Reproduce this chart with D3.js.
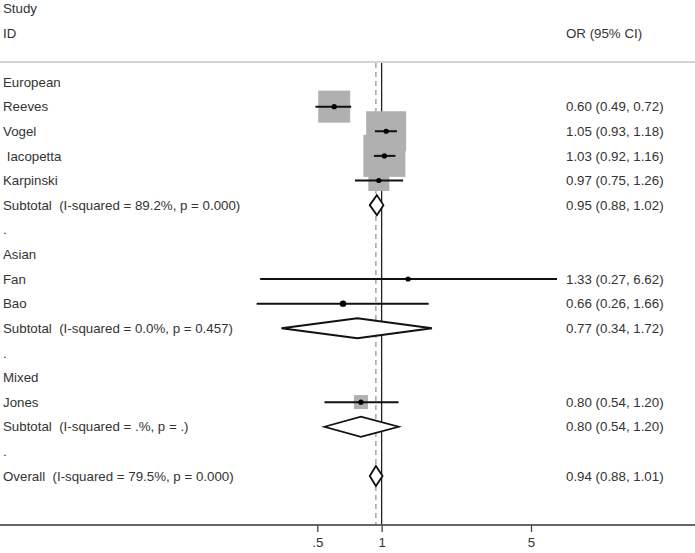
<!DOCTYPE html>
<html><head><meta charset="utf-8">
<script src="https://cdn.jsdelivr.net/npm/d3@7/dist/d3.min.js"></script>
<style>
html,body{margin:0;padding:0;background:#fff;}
svg text{font-family:"Liberation Sans",Arial,sans-serif;font-size:13.3px;fill:#333;white-space:pre;}
</style></head>
<body><svg id="chart" width="695" height="553"></svg>
<script>
const rowLabels = ["European","Reeves","Vogel"," Iacopetta","Karpinski","Subtotal  (I-squared = 89.2%, p = 0.000)",".",
  "Asian","Fan","Bao","Subtotal  (I-squared = 0.0%, p = 0.457)",".",
  "Mixed","Jones","Subtotal  (I-squared = .%, p = .)",".",
  "Overall  (I-squared = 79.5%, p = 0.000)"];
const rowTypes = ["group","study","study","study","study","subtotal","blank",
  "group","study","study","subtotal","blank",
  "group","study","subtotal","blank","overall"];
const orValues = [null,0.60,1.05,1.03,0.97,0.95,null,null,1.33,0.66,0.77,null,null,0.80,0.80,null,0.94];
const ciLow    = [null,0.49,0.93,0.92,0.75,0.88,null,null,0.27,0.26,0.34,null,null,0.54,0.54,null,0.88];
const ciHigh   = [null,0.72,1.18,1.16,1.26,1.02,null,null,6.62,1.66,1.72,null,null,1.20,1.20,null,1.01];
const ciText   = [null,"0.60 (0.49, 0.72)","1.05 (0.93, 1.18)","1.03 (0.92, 1.16)","0.97 (0.75, 1.26)","0.95 (0.88, 1.02)",null,
  null,"1.33 (0.27, 6.62)","0.66 (0.26, 1.66)","0.77 (0.34, 1.72)",null,
  null,"0.80 (0.54, 1.20)","0.80 (0.54, 1.20)",null,"0.94 (0.88, 1.01)"];
const boxSize  = [0,32,40,42,21,0,0,0,0,0,0,0,0,14,0,0,0];
const tickValues = [0.5,1,5];
const tickLabels = [".5","1","5"];
const overallOR = 0.94;

const svg = d3.select("#chart");
const W = 695, H = 553;
const x = d3.scaleLog().domain([0.5,5]).range([317.3,531]);
const y = d3.scaleLinear().domain([0, rowLabels.length-1]).range([82,476]);
const axisY = 525, sepY = 62;

// header
svg.append("text").attr("x",3).attr("y",8).attr("dy","0.35em").text("Study");
svg.append("text").attr("x",3).attr("y",33).attr("dy","0.35em").text("ID");
svg.append("text").attr("x",566).attr("y",33).attr("dy","0.35em").text("OR (95% CI)");
svg.append("line").attr("x1",0).attr("x2",W).attr("y1",sepY).attr("y2",sepY)
  .attr("stroke","#d4d4d4").attr("stroke-width",2);

// reference lines
svg.append("line").attr("x1",x(1)).attr("x2",x(1)).attr("y1",sepY+1).attr("y2",axisY)
  .attr("stroke","#222").attr("stroke-width",1.3);
svg.append("line").attr("x1",x(overallOR)).attr("x2",x(overallOR)).attr("y1",sepY+1).attr("y2",axisY)
  .attr("stroke","#999").attr("stroke-width",1.3).attr("stroke-dasharray","5,4");

// boxes
const idx = d3.range(rowLabels.length);
svg.selectAll("rect.box").data(idx.filter(i=>rowTypes[i]==="study" && boxSize[i]>0)).join("rect")
  .attr("class","box")
  .attr("x",i=>x(orValues[i])-boxSize[i]/2).attr("y",i=>y(i)-boxSize[i]/2)
  .attr("width",i=>boxSize[i]).attr("height",i=>boxSize[i])
  .attr("fill","#b0b0b0");

// CI lines
svg.selectAll("line.ci").data(idx.filter(i=>rowTypes[i]==="study")).join("line")
  .attr("class","ci")
  .attr("x1",i=>x(ciLow[i])).attr("x2",i=>x(ciHigh[i]))
  .attr("y1",i=>y(i)).attr("y2",i=>y(i))
  .attr("stroke","#111").attr("stroke-width",2);
svg.selectAll("circle.pt").data(idx.filter(i=>rowTypes[i]==="study")).join("circle")
  .attr("class","pt")
  .attr("cx",i=>x(orValues[i])).attr("cy",i=>y(i))
  .attr("r",i=>rowLabels[i]==="Bao"?3.2:2.6).attr("fill","#000");

// diamonds
const dh = 10;
svg.selectAll("path.dia").data(idx.filter(i=>rowTypes[i]==="subtotal"||rowTypes[i]==="overall")).join("path")
  .attr("class","dia")
  .attr("d",i=>{const c=y(i);return `M${x(ciLow[i])},${c}L${x(orValues[i])},${c-dh}L${x(ciHigh[i])},${c}L${x(orValues[i])},${c+dh}Z`;})
  .attr("fill","#fff").attr("stroke","#111").attr("stroke-width",1.8);

// labels
svg.selectAll("text.lab").data(idx).join("text")
  .attr("class","lab").attr("x",3).attr("y",i=>y(i)).attr("dy","0.35em")
  .text(i=>rowLabels[i]);
svg.selectAll("text.val").data(idx.filter(i=>ciText[i])).join("text")
  .attr("class","val").attr("x",566).attr("y",i=>y(i)).attr("dy","0.35em")
  .text(i=>ciText[i]);

// axis
svg.append("line").attr("x1",0).attr("x2",W).attr("y1",axisY).attr("y2",axisY)
  .attr("stroke","#666").attr("stroke-width",2);
const ax = svg.append("g").attr("transform",`translate(0,${axisY})`)
  .call(d3.axisBottom(x).tickValues(tickValues).tickFormat((d,i)=>tickLabels[i]).tickSize(7).tickPadding(6));
ax.select(".domain").remove();
ax.selectAll(".tick line").attr("stroke","#444").attr("stroke-width",1.3);
ax.selectAll(".tick text").style("font-size","13.3px").attr("fill","#333").style("font-family","'Liberation Sans',Arial,sans-serif");
</script></body></html>
